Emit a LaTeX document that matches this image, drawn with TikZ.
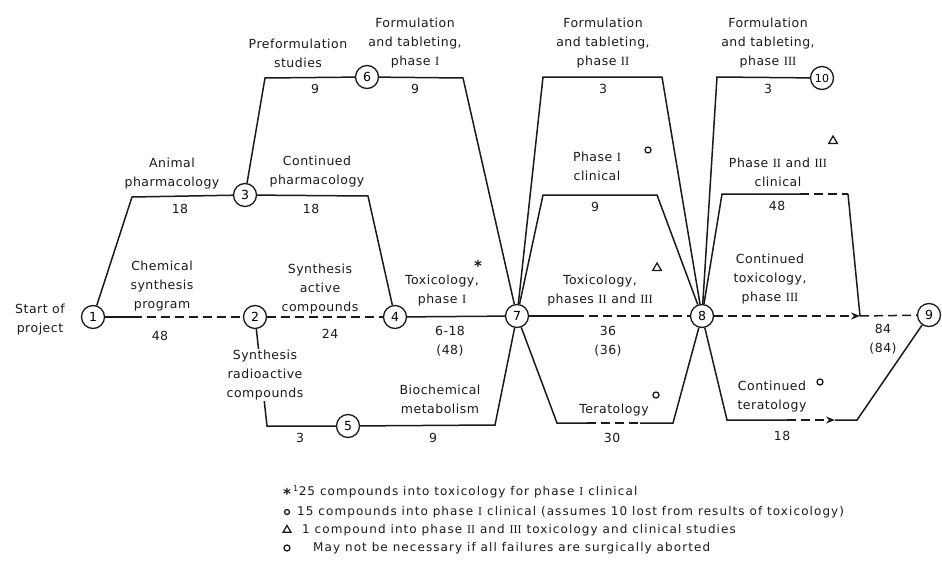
\documentclass[tikz,border=0pt]{standalone}
\usepackage{fontspec}
\setmainfont[LetterSpace=4]{DejaVu Sans}
\newfontfamily\numfont{Liberation Serif}
\newfontfamily\notefont[LetterSpace=9]{DejaVu Sans}
\usepackage{tikz}
\usetikzlibrary{positioning,arrows.meta,shapes.geometric}
\definecolor{pertink}{HTML}{1A1A1A}
\newcommand{\RI}{{\numfont I}}
\newcommand{\RII}{{\numfont II}}
\newcommand{\RIII}{{\numfont III}}
\tikzset{
  event/.style  ={circle, draw=pertink, line width=1.3pt, minimum size=23pt,
                  inner sep=0pt, font=\fontsize{12.5}{14}\selectfont},
  act/.style    ={draw=pertink, line width=1.5pt},
  dashact/.style={act, dash pattern=on 9pt off 5pt},
  fl/.style     ={-{Stealth[length=9pt,width=7pt]}},
  lbl/.style    ={align=center, inner sep=1pt, text=pertink,
                  font=\fontsize{12.5}{19}\selectfont},
  dur/.style    ={inner sep=1pt, text=pertink, font=\fontsize{12.5}{19}\selectfont},
  mko/.style    ={circle, draw=pertink, line width=1.3pt, minimum size=6pt, inner sep=0pt},
  mkt/.style    ={regular polygon, regular polygon sides=3, draw=pertink,
                  line width=1.3pt, minimum size=10pt, inner sep=0pt},
  mks/.style    ={inner sep=0pt, text=pertink, font=\fontsize{15}{15}\selectfont\bfseries},
  note/.style   ={anchor=west, inner sep=0pt, text=pertink,
                  font=\notefont\fontsize{12}{14}\selectfont},
}
\begin{document}
\begin{tikzpicture}[x=1pt,y=-1pt]
  \useasboundingbox (0,0) rectangle (942,573);
  \node[event] (e1) at (93,317) {1};
  \node[event] (e2) at (255,317) {2};
  \node[event] (e3) at (245,195) {3};
  \node[event] (e4) at (395,317) {4};
  \node[event] (e5) at (348,426) {5};
  \node[event] (e6) at (367,77) {6};
  \node[event] (e7) at (517,316) {7};
  \node[event] (e8) at (702,316) {8};
  \node[event] (e9) at (929,315) {9};
  \node[event,font=\fontsize{11}{13}\selectfont] (e10) at (822,78) {10};

  \coordinate (s12) at (133,317);
  \coordinate (aL) at (132,197);
  \coordinate (pL) at (265,78);
  \coordinate (pR) at (463,78);
  \coordinate (cR) at (368,196);
  \coordinate (rL) at (267,426);
  \coordinate (bR) at (495,425);
  \coordinate (s78) at (575,316);
  \coordinate (f2L) at (543,77);
  \coordinate (f2R) at (662,77);
  \coordinate (k1L) at (543,195);
  \coordinate (k1R) at (657,195);
  \coordinate (tL) at (557,423);
  \coordinate (tM) at (587,423);
  \coordinate (tN) at (640,423);
  \coordinate (tR) at (673,423);
  \coordinate (f3L) at (717,77);
  \coordinate (k2L) at (722,194);
  \coordinate (k2M) at (800,194);
  \coordinate (k2R) at (848,194);
  \coordinate (jn) at (860,316);
  \coordinate (uL) at (727,420);
  \coordinate (uM) at (787,420);
  \coordinate (uA) at (835,420);
  \coordinate (uR) at (857,420);

  \draw[act] (e1) -- (s12);
  \draw[dashact] (s12) -- (e2);
  \draw[act] (e1) -- (aL) -- (e3);
  \draw[dashact] (e2) -- (e4);
  \draw[act] (e3) -- (pL) -- (e6);
  \draw[act] (e6) -- (pR) -- (e7);
  \draw[act] (e3) -- (cR) -- (e4);
  \draw[act] (e2) -- (rL) -- (e5);
  \draw[act] (e5) -- (bR) -- (e7);
  \draw[act] (e4) -- (e7);
  \draw[act] (e7) -- (s78);
  \draw[dashact] (s78) -- (e8);
  \draw[act] (e7) -- (f2L) -- (f2R) -- (e8);
  \draw[act] (e7) -- (k1L) -- (k1R) -- (e8);
  \draw[act] (e7) -- (tL) -- (tM);
  \draw[dashact] (tM) -- (tN);
  \draw[act] (tN) -- (tR) -- (e8);
  \draw[act] (e8) -- (f3L) -- (e10);
  \draw[act] (e8) -- (k2L) -- (k2M);
  \draw[dashact] (k2M) -- (k2R);
  \draw[act] (k2R) -- (jn);
  \draw[dashact,fl] (e8) -- (jn);
  \draw[dashact] (jn) -- (e9);
  \draw[act] (e8) -- (uL) -- (uM);
  \draw[dashact,fl] (uM) -- (uA);
  \draw[act] (uA) -- (uR) -- (e9);

  \node[lbl] (lstart) at (40,320) {Start of\\project};
  \node[lbl] (lanim) at (172,174) {Animal\\pharmacology};
  \node[dur] (danim) at (180,209) {18};
  \node[lbl] (lcpha) at (317,172) {Continued\\pharmacology};
  \node[dur] (dcpha) at (311,209) {18};
  \node[lbl] (lpref) at (298,53) {Preformulation\\studies};
  \node[dur] (dpref) at (315,89) {9};
  \node[lbl] (lform1) at (415,43) {Formulation\\and tableting,\\phase \RI};
  \node[dur] (dform1) at (415,89) {9};
  \node[lbl] (lchem) at (162,286) {Chemical\\synthesis\\program};
  \node[dur] (dchem) at (160,336) {48};
  \node[lbl] (lsynA) at (320,289) {Synthesis\\active\\compounds};
  \node[dur] (dsynA) at (330,334) {24};
  \node[lbl,fill=white] (lsynR) at (265,375) {Synthesis\\radioactive\\compounds};
  \node[dur] (dsynR) at (300,438) {3};
  \node[lbl] (lbio) at (440,399) {Biochemical\\metabolism};
  \node[dur] (dbio) at (433,438) {9};
  \node[lbl] (ltox1) at (442,291) {Toxicology,\\phase \RI};
  \node[mks] (mtox1) at (478,266) {*};
  \node[lbl] (dtox1) at (450,341) {6-18\\(48)};
  \node[lbl] (lform2) at (603,43) {Formulation\\and tableting,\\phase \RII};
  \node[dur] (dform2) at (603,89) {3};
  \node[lbl] (lclin1) at (597,166) {Phase \RI\\clinical};
  \node[mko] (mclin1) at (648,150) {};
  \node[dur] (dclin1) at (595,207) {9};
  \node[lbl] (ltox2) at (600,291) {Toxicology,\\phases \RII{} and \RIII};
  \node[mkt] (mtox2) at (657,268) {};
  \node[lbl] (dtox2) at (608,341) {36\\(36)};
  \node[lbl] (lter) at (614,410) {Teratology};
  \node[mko] (mter) at (656,395) {};
  \node[dur] (dter) at (612,438) {30};
  \node[lbl] (lform3) at (768,43) {Formulation\\and tableting,\\phase \RIII};
  \node[dur] (dform3) at (768,89) {3};
  \node[lbl] (lclin2) at (778,172) {Phase \RII{} and \RIII\\clinical};
  \node[mkt] (mclin2) at (833,141) {};
  \node[dur] (dclin2) at (777,206) {48};
  \node[lbl] (lctox) at (770,279) {Continued\\toxicology,\\phase \RIII};
  \node[lbl] (dctox) at (883,339) {84\\(84)};
  \node[lbl] (lcter) at (772,397) {Continued\\teratology};
  \node[mko] (mcter) at (820,382) {};
  \node[dur] (dcter) at (782,436) {18};

  \node[mks] (kstar) at (287,494) {*};
  \node[note] (kt1) at (293,492) {\textsuperscript{1}25 compounds into toxicology for phase \RI{} clinical};
  \node[mko,minimum size=5pt] (kcirc) at (287,512) {};
  \node[note] (kt2) at (297,512) {15 compounds into phase \RI{} clinical (assumes 10 lost from results of toxicology)};
  \node[mkt,minimum size=9pt] (ktri) at (287,530) {};
  \node[note] (kt3) at (302,530) {1 compound into phase \RII{} and \RIII{} toxicology and clinical studies};
  \node[mko] (kring) at (287,548) {};
  \node[note] (kt4) at (313,548) {May not be necessary if all failures are surgically aborted};
\end{tikzpicture}
\end{document}
